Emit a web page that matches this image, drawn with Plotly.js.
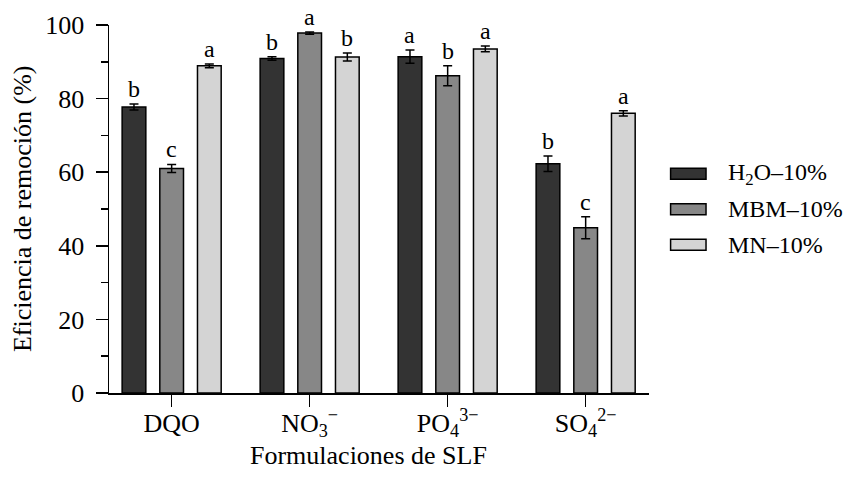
<!DOCTYPE html>
<html>
<head>
<meta charset="utf-8">
<script src="https://cdn.plot.ly/plotly-3.0.1.min.js"></script>
<style>html,body{margin:0;padding:0;background:#fff;}#chart{width:845px;height:477px;}</style>
</head>
<body>
<div id="chart"></div>
<script>
// ---- data ----
const categories = ["DQO", "NO<sub>3</sub><sup>−</sup>", "PO<sub>4</sub><sup>3−</sup>", "SO<sub>4</sub><sup>2−</sup>"];
const seriesNames = ["H<sub>2</sub>O–10%", "MBM–10%", "MN–10%"];
const h2oValues = [77.7, 90.9, 91.4, 62.3];
const h2oErrors = [0.8, 0.5, 1.8, 2.1];
const mbmValues = [61.0, 97.8, 86.2, 44.9];
const mbmErrors = [1.1, 0.3, 2.7, 3.0];
const mnValues = [88.9, 91.3, 93.5, 76.0];
const mnErrors = [0.5, 1.1, 0.8, 0.7];
const h2oLetters = ["b", "b", "a", "b"];
const mbmLetters = ["c", "a", "b", "c"];
const mnLetters = ["a", "b", "a", "a"];
const yTickValues = [0, 20, 40, 60, 80, 100];

// ---- style ----
const colors = ["#333333", "#878787", "#d4d4d4"];
const FONT = "Liberation Serif, Times New Roman, serif";
const values = [h2oValues, mbmValues, mnValues];
const errors = [h2oErrors, mbmErrors, mnErrors];
const letters = [h2oLetters, mbmLetters, mnLetters];
const xIdx = categories.map((_, i) => i);
const bargap = 0.181;
const slot = (1 - bargap) / 3;

const traces = values.map((v, k) => ({
  type: "bar",
  name: seriesNames[k],
  x: xIdx,
  y: v,
  marker: { color: colors[k], line: { color: "#000", width: 1.5 } },
  error_y: { type: "data", array: errors[k], visible: true, color: "#000", thickness: 1.5, width: 4.5 },
  showlegend: false,
  hoverinfo: "skip"
}));

const annotations = [];
values.forEach((v, k) => {
  v.forEach((val, i) => {
    annotations.push({
      x: i + (k - 1) * slot, y: val + errors[k][i], xref: "x", yref: "y",
      text: letters[k][i], showarrow: false, yanchor: "bottom", yshift: 0,
      font: { family: FONT, size: 24, color: "#000" }
    });
  });
});

// axis titles
annotations.push({
  text: "Formulaciones de SLF", xref: "paper", yref: "paper", x: 0.48, y: -0.1696,
  xanchor: "center", yanchor: "middle", showarrow: false,
  font: { family: FONT, size: 26, color: "#000" }
});
annotations.push({
  text: "Eficiencia de remoción (%)", xref: "paper", yref: "paper", x: -0.161, y: 0.5,
  xanchor: "center", yanchor: "middle", textangle: -90, showarrow: false,
  font: { family: FONT, size: 26, color: "#000" }
});

// custom legend (swatches + labels) in paper coordinates
const shapes = [];
const legX0 = 1.040, legX1 = 1.1056, legTop = 0.5957, legStep = 0.0965, legH = 0.03;
seriesNames.forEach((n, k) => {
  const yc = legTop - k * legStep;
  shapes.push({
    type: "rect", xref: "paper", yref: "paper",
    x0: legX0, x1: legX1, y0: yc - legH / 2, y1: yc + legH / 2,
    fillcolor: colors[k], line: { color: "#000", width: 1.5 }
  });
  annotations.push({
    text: n, xref: "paper", yref: "paper", x: 1.142, y: yc,
    xanchor: "left", yanchor: "middle", showarrow: false,
    font: { family: FONT, size: 24, color: "#000" }
  });
});

const layout = {
  width: 845, height: 477,
  margin: { l: 109, r: 196, t: 25, b: 84 },
  paper_bgcolor: "#fff", plot_bgcolor: "#fff",
  barmode: "group", bargap: bargap, bargroupgap: 0.371,
  showlegend: false,
  font: { family: FONT, size: 26, color: "#000" },
  xaxis: {
    range: [-0.454, 3.459], tickmode: "array", tickvals: xIdx, ticktext: categories,
    showline: true, linecolor: "#000", linewidth: 1.5, ticks: "outside", ticklen: 12,
    tickwidth: 1.5, tickcolor: "#000", showgrid: false, zeroline: false,
    tickfont: { family: FONT, size: 26, color: "#000" }, ticklabelstandoff: -6
  },
  yaxis: {
    range: [0, 100], tickmode: "array", tickvals: yTickValues,
    showline: true, linecolor: "#000", linewidth: 1.5, ticks: "outside", ticklen: 12,
    tickwidth: 1.5, tickcolor: "#000", showgrid: false, zeroline: false,
    tickfont: { family: FONT, size: 26, color: "#000" }, ticklabelstandoff: 6,
    minor: { dtick: 10, ticks: "outside", ticklen: 7, tickwidth: 1.5, tickcolor: "#000", showgrid: false }
  },
  annotations: annotations,
  shapes: shapes
};

Plotly.newPlot("chart", traces, layout, { displayModeBar: false, staticPlot: true });
</script>
</body>
</html>
